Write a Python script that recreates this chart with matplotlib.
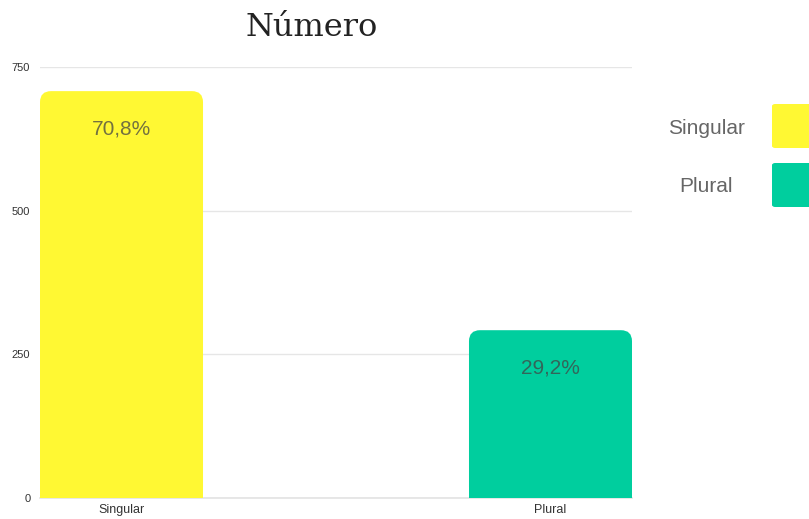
import matplotlib
matplotlib.use('Agg')

import matplotlib.pyplot as plt
from matplotlib.patches import FancyBboxPatch, Rectangle

title = 'Número'
categories = ['Singular', 'Plural']
counts = [708, 292]
labels = ['70,8%', '29,2%']
colors = ['#fff833', '#00ce9e']
yticks = [0, 250, 500, 750]

W, H = 809, 519
fig = plt.figure(figsize=(W / 100, H / 100), dpi=100)
ax = fig.add_axes([40 / W, 1 - 498 / H, 592 / W, 431 / H])

width = 0.38
x = list(range(len(categories)))
bars = ax.bar(x, counts, width=width, color=colors, zorder=2)

ax.set_xlim(-width / 2, x[-1] + width / 2)
ax.set_ylim(0, 750)

# rounded top corners: hide plain bars, redraw as rounded box + square bottom
r_px = 11
px_x = (592 / (ax.get_xlim()[1] - ax.get_xlim()[0]))
px_y = 431 / 750
rx = r_px / px_x
ry = r_px / px_y
for b in bars:
    b.set_visible(False)
    bx, bw, bh = b.get_x(), b.get_width(), b.get_height()
    ax.add_patch(FancyBboxPatch((bx, 0), bw, bh,
                                boxstyle='round,pad=0,rounding_size=%f' % rx,
                                mutation_aspect=ry / rx,
                                facecolor=b.get_facecolor(), edgecolor='none', zorder=2))
    ax.add_patch(Rectangle((bx, 0), bw, bh - ry * 1.5,
                           facecolor=b.get_facecolor(), edgecolor='none', zorder=2))

for xi, v, lab in zip(x, counts, labels):
    ax.annotate(lab, (xi, v), xytext=(0, -27), textcoords='offset points',
                ha='center', va='center', fontsize=15, color='#444444', alpha=0.75,
                family='Liberation Sans', zorder=3)

ax.set_yticks(yticks)
ax.set_yticklabels([str(t) for t in yticks], fontsize=8, color='#333333',
                   family='Liberation Sans')
ax.set_xticks(x)
ax.set_xticklabels(categories, fontsize=9, color='#333333', family='Liberation Sans')
ax.tick_params(axis='y', length=0, pad=7)
ax.tick_params(axis='x', length=0, pad=4)
ax.grid(axis='y', color='#e6e6e6', linewidth=1, zorder=0)
ax.axhline(0, color='#e3e3e3', linewidth=1.2, zorder=1, clip_on=False)
ax.set_axisbelow(True)
for s in ax.spines.values():
    s.set_visible(False)

fig.text(312 / W, 1 - 28 / H, title, ha='center', va='center', fontsize=23,
         family='DejaVu Serif', color='#222222')

# legend on the right
leg_y = [128, 187]
box_y = [126, 185]
for name, col, yc, yb in zip(categories, colors, leg_y, box_y):
    fig.text(706 / W, 1 - yc / H, name, ha='center', va='center', fontsize=15,
             color='#666666', family='Liberation Sans')
    fig.patches.append(FancyBboxPatch((772 / W, 1 - (yb + 22) / H), 60 / W, 44 / H,
                                      boxstyle='round,pad=0,rounding_size=0.004',
                                      transform=fig.transFigure, facecolor=col,
                                      edgecolor='none', figure=fig))

fig.savefig('out.png', dpi=100)
